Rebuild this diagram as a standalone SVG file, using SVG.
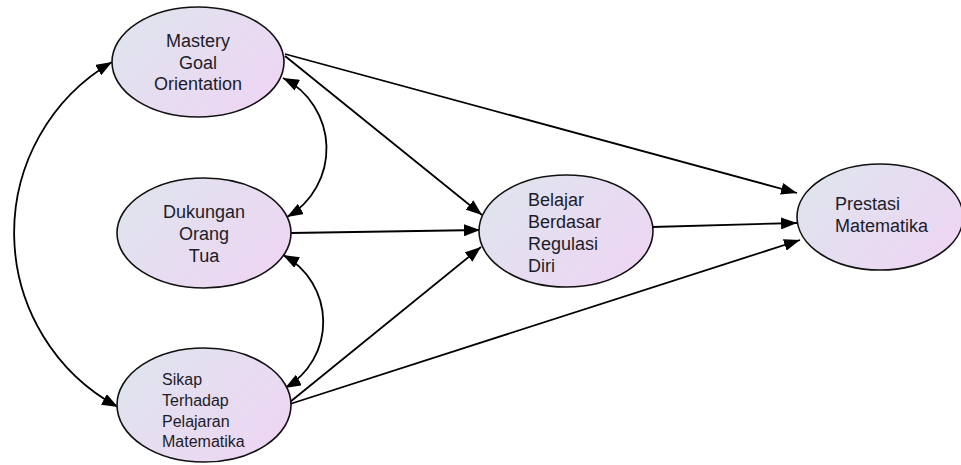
<svg xmlns="http://www.w3.org/2000/svg" width="961" height="465" viewBox="0 0 961 465">
  <defs>
    <linearGradient id="nodeFill" x1="0" y1="0.2" x2="1" y2="0.8">
      <stop offset="0" stop-color="#dfe4ee"/>
      <stop offset="1" stop-color="#eed5f3"/>
    </linearGradient>
    <marker id="arrow" viewBox="0 0 16 12" refX="16" refY="6" markerWidth="16" markerHeight="12" markerUnits="userSpaceOnUse" orient="auto-start-reverse">
      <path d="M0,0 L16,6 L0,12 z" fill="#000"/>
    </marker>
    <style>
      .node ellipse { fill: url(#nodeFill); stroke: #111; stroke-width: 1.6; }
      .node text { font-family: "Liberation Sans", Arial, sans-serif; font-size: 18px; fill: #1c1c2a; }
      .node text.c { text-anchor: middle; }
      .node text.small { font-size: 16px; }
      .edge { fill: none; stroke: #000; stroke-width: 1.8; marker-end: url(#arrow); }
      .edge.both { marker-start: url(#arrow); }
    </style>
  </defs>

  <rect width="961" height="465" fill="#fff"/>

  <!-- connectors -->
  <g id="connectors">
    <path class="edge" d="M285,54 L797,193"/>
    <path class="edge" d="M285,56 L482,215"/>
    <path class="edge" d="M291,233 L480,230"/>
    <path class="edge" d="M290,402 L481,247"/>
    <path class="edge" d="M290,404 L800,240"/>
    <path class="edge" d="M652,227 L797,223"/>
    <path class="edge both" d="M283,78 A79,79 0 0 1 287,217"/>
    <path class="edge both" d="M283,255 A76,76 0 0 1 285,388"/>
    <path class="edge both" d="M112,62 A198,198 0 0 0 118,407"/>
  </g>

  <!-- nodes -->
  <g id="mastery" class="node">
    <ellipse cx="198" cy="62" rx="86" ry="55"/>
    <text class="c" x="198" y="47">Mastery</text>
    <text class="c" x="198" y="69">Goal</text>
    <text class="c" x="198" y="90">Orientation</text>
  </g>

  <g id="dukungan" class="node">
    <ellipse cx="204" cy="233" rx="87" ry="55"/>
    <text class="c" x="204" y="218">Dukungan</text>
    <text class="c" x="204" y="240">Orang</text>
    <text class="c" x="204" y="262">Tua</text>
  </g>

  <g id="sikap" class="node">
    <ellipse cx="204" cy="405" rx="87" ry="57"/>
    <text class="small" x="162" y="385">Sikap</text>
    <text class="small" x="162" y="406">Terhadap</text>
    <text class="small" x="162" y="427">Pelajaran</text>
    <text class="small" x="162" y="447">Matematika</text>
  </g>

  <g id="belajar" class="node">
    <ellipse cx="566" cy="231" rx="87" ry="56"/>
    <text x="528" y="206">Belajar</text>
    <text x="528" y="228">Berdasar</text>
    <text x="528" y="250">Regulasi</text>
    <text x="528" y="272">Diri</text>
  </g>

  <g id="prestasi" class="node">
    <ellipse cx="880" cy="217" rx="83" ry="53"/>
    <text x="835" y="210">Prestasi</text>
    <text x="835" y="232">Matematika</text>
  </g>
</svg>
